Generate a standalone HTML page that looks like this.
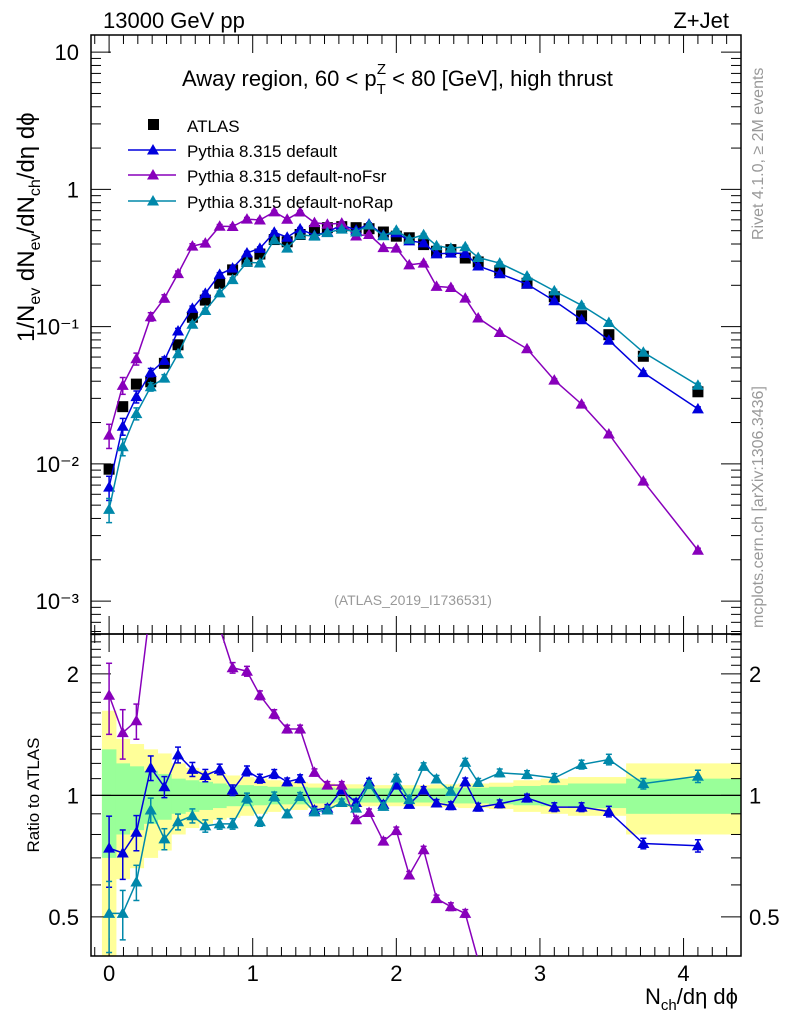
<!DOCTYPE html>
<html><head><meta charset="utf-8"><style>
html,body{margin:0;background:#fff;width:786px;height:1024px;overflow:hidden;}
svg{display:block;font-family:"Liberation Sans",sans-serif;}
</style></head><body>
<svg id="c" width="786" height="1024" xmlns="http://www.w3.org/2000/svg"></svg>
<script>
const xs=[0,0.095,0.19,0.29,0.385,0.48,0.58,0.67,0.77,0.86,0.96,1.05,1.15,1.24,1.33,1.43,1.52,1.62,1.72,1.81,1.91,2.0,2.09,2.19,2.28,2.38,2.48,2.57,2.72,2.91,3.10,3.29,3.48,3.72,4.10];
const atlas=[0.00914,0.0261,0.0381,0.0396,0.054,0.0737,0.117,0.156,0.207,0.259,0.299,0.338,0.431,0.415,0.469,0.502,0.526,0.535,0.526,0.517,0.489,0.456,0.444,0.396,0.354,0.364,0.316,0.296,0.255,0.207,0.165,0.12,0.0873,0.0608,0.0335];
const ratioDefault=[0.74,0.72,0.81,1.17,1.05,1.26,1.16,1.12,1.16,1.03,1.15,1.10,1.13,1.08,1.10,0.92,0.93,1.03,0.96,1.08,0.95,1.06,0.95,1.03,0.957,0.943,1.08,0.935,0.953,0.985,0.935,0.935,0.912,0.76,0.75];
const ratioNoFsr=[1.77,1.43,1.53,2.98,2.98,3.3,3.3,2.6,2.6,2.07,2.03,1.77,1.59,1.46,1.46,1.14,1.06,1.06,0.87,0.907,0.77,0.818,0.635,0.733,0.555,0.53,0.51,0.39,0.355,0.333,0.247,0.227,0.189,0.123,0.07];
const ratioNoRap=[0.51,0.51,0.61,0.92,0.78,0.86,0.89,0.84,0.85,0.85,0.985,0.86,0.994,0.9,0.994,0.91,0.92,0.96,0.93,1.063,0.939,1.104,0.976,1.18,1.098,1.023,1.208,1.077,1.137,1.126,1.104,1.192,1.227,1.069,1.115];
const mcErr=[0.2,0.14,0.1,0.07,0.06,0.045,0.04,0.035,0.03,0.03,0.028,0.025,0.025,0.022,0.022,0.02,0.02,0.02,0.02,0.02,0.02,0.02,0.02,0.02,0.02,0.022,0.022,0.022,0.022,0.022,0.025,0.025,0.03,0.03,0.035];
const bandOuter=[0.62,0.38,0.34,0.3,0.27,0.2,0.17,0.15,0.13,0.12,0.11,0.1,0.09,0.08,0.08,0.07,0.07,0.065,0.065,0.06,0.06,0.06,0.06,0.06,0.065,0.065,0.07,0.07,0.075,0.09,0.1,0.11,0.11,0.2,0.2];
const bandInner=[0.3,0.2,0.18,0.15,0.13,0.1,0.09,0.08,0.07,0.06,0.06,0.055,0.05,0.05,0.05,0.045,0.045,0.04,0.04,0.04,0.04,0.04,0.04,0.04,0.04,0.045,0.045,0.045,0.05,0.055,0.06,0.07,0.07,0.1,0.1];
const xTicks=["0","1","2","3","4"];
const yTickLabels=["10⁻³","10⁻²","10⁻¹","1","10"];
const ratioTickLabels=["0.5","1","2"];

const NS="http://www.w3.org/2000/svg";
const svg=document.getElementById('c');
function el(t,a,p){const e=document.createElementNS(NS,t);for(const k in a)e.setAttribute(k,a[k]);(p||svg).appendChild(e);return e;}
const L=91,R=741,T1=35,B1=634,T2=634,B2=956;
const XMIN=-0.126,XMAX=4.4;
const X=v=>L+(v-XMIN)/(XMAX-XMIN)*(R-L);
const LYMIN=-3.24,LYMAX=1.125;
const Y1=v=>B1-(Math.log10(v)-LYMIN)/(LYMAX-LYMIN)*(B1-T1);
const RMIN=Math.log2(0.40),RMAX=Math.log2(2.51);
const Y2=v=>B2-(Math.log2(v)-RMIN)/(RMAX-RMIN)*(B2-T2);
const cols={d:"#0000dd",f:"#8800bb",r:"#0088aa"};
const clampY=(y,a,b)=>Math.min(Math.max(y,a),b);

// clip polyline to y range, returns array of segments
function clipLine(pts,ya,yb){
  const segs=[];let cur=[];
  for(let i=0;i<pts.length-1;i++){
    let [x0,y0]=pts[i],[x1,y1]=pts[i+1];
    let t0=0,t1=1;const dy=y1-y0;
    if(dy===0){if(y0<ya||y0>yb){if(cur.length){segs.push(cur);cur=[];}continue;}}
    else{let ta=(ya-y0)/dy,tb=(yb-y0)/dy;const lo=Math.min(ta,tb),hi=Math.max(ta,tb);t0=Math.max(0,lo);t1=Math.min(1,hi);}
    if(t0>t1){if(cur.length){segs.push(cur);cur=[];}continue;}
    const p0=[x0+(x1-x0)*t0,y0+dy*t0],p1=[x0+(x1-x0)*t1,y0+dy*t1];
    if(!cur.length||t0>0){if(cur.length)segs.push(cur);cur=[p0];}
    cur.push(p1);
    if(t1<1){segs.push(cur);cur=[];}
  }
  if(cur.length)segs.push(cur);
  return segs;
}

const edges=xs.map((v,i)=>i==0?-0.05:(xs[i-1]+v)/2);edges.push(4.4);
const gB=el('g',{});

xs.forEach((v,i)=>{
  const x0=X(edges[i]),x1=X(edges[i+1]);
  const yt=clampY(Y2(1+bandOuter[i]),T2,B2),yb=clampY(Y2(Math.max(1-bandOuter[i],0.05)),T2,B2);
  const r=el('rect',{x:x0,y:yt,width:x1-x0+0.5,height:yb-yt,fill:'#ffff99'},gB);
  
});
xs.forEach((v,i)=>{
  const x0=X(edges[i]),x1=X(edges[i+1]);
  const yt=clampY(Y2(1+bandInner[i]),T2,B2),yb=clampY(Y2(1-bandInner[i]),T2,B2);
  const r=el('rect',{x:x0,y:yt,width:x1-x0+0.5,height:yb-yt,fill:'#99ff99'},gB);
  
});
el('line',{x1:L,x2:R,y1:Y2(1),y2:Y2(1),stroke:'#000','stroke-width':1.2});

el('rect',{x:L,y:T1,width:R-L,height:B1-T1,fill:'none',stroke:'#000','stroke-width':1.5});
el('rect',{x:L,y:T2,width:R-L,height:B2-T2,fill:'none',stroke:'#000','stroke-width':1.5});

for(let k=-1;k<=44;k++){const v=k/10;if(v<XMIN||v>XMAX)continue;const maj=k%10==0;const len=maj?18:9;const x=X(v);
 [[B1,-1],[T1,1],[B2,-1],[T2,1]].forEach(([y,s])=>el('line',{x1:x,x2:x,y1:y,y2:y+s*len,stroke:'#000','stroke-width':1}));}
xTicks.forEach((t,i)=>{const e=el('text',{x:X(i),y:981,'font-size':22,'text-anchor':'middle'});e.textContent=t;
 });
for(let d=-4;d<=1;d++){for(let m=1;m<=9;m++){const v=m*Math.pow(10,d);const lv=Math.log10(v);if(lv<LYMIN||lv>LYMAX)continue;const len=m==1?20:10;const y=Y1(v);
 el('line',{x1:L,x2:L+len,y1:y,y2:y,stroke:'#000'});el('line',{x1:R,x2:R-len,y1:y,y2:y,stroke:'#000'});}}
yTickLabels.forEach((t,i)=>{const e=el('text',{x:79,y:Y1(Math.pow(10,i-3))+8,'font-size':22,'text-anchor':'end'});e.textContent=t;
 });
[0.4,0.5,0.6,0.7,0.8,0.9,1,1.1,1.2,1.3,1.4,1.5,1.6,1.7,1.8,1.9,2,2.1,2.2,2.3,2.4,2.5].forEach(v=>{const maj=(v==0.5||v==1||v==2);const len=maj?20:10;const y=Y2(v);
 el('line',{x1:L,x2:L+len,y1:y,y2:y,stroke:'#000'});el('line',{x1:R,x2:R-len,y1:y,y2:y,stroke:'#000'});});
ratioTickLabels.forEach((t,i)=>{const v=[0.5,1,2][i];
 let e=el('text',{x:79,y:Y2(v)+8,'font-size':22,'text-anchor':'end'});e.textContent=t;
 
 e=el('text',{x:749,y:Y2(v)+8,'font-size':22,'text-anchor':'start'});e.textContent=t;
 });

function tri(g,x,y,c,s){el('path',{d:`M${x},${y-s}L${x+s},${y+s*0.75}L${x-s},${y+s*0.75}Z`,fill:c},g);}
function drawPanel(g,pts,errs,c,ya,yb){
  clipLine(pts,ya,yb).forEach(s=>el('polyline',{points:s.map(p=>p.join(',')).join(' '),fill:'none',stroke:c,'stroke-width':1.5},g));
  pts.forEach((p,i)=>{const [x,y]=p;if(y<ya||y>yb)return;
    const e1=clampY(errs[i][0],ya,yb),e2=clampY(errs[i][1],ya,yb);
    el('line',{x1:x,x2:x,y1:e1,y2:e2,stroke:c,'stroke-width':1.5},g);
    [e1,e2].forEach(yy=>el('line',{x1:x-3,x2:x+3,y1:yy,y2:yy,stroke:c,'stroke-width':1.5},g));
    tri(g,x,y,c,6);});
}
function series(name,ratio,c){
 const top=el('g',{});
 const bot=el('g',{});
 const vals=ratio.map((r,i)=>r*atlas[i]);
 drawPanel(top,xs.map((x,i)=>[X(x),Y1(vals[i])]),xs.map((x,i)=>[Y1(vals[i]*(1+mcErr[i])),Y1(vals[i]*(1-mcErr[i]))]),c,T1,B1);
 drawPanel(bot,xs.map((x,i)=>[X(x),Y2(ratio[i])]),xs.map((x,i)=>[Y2(ratio[i]*(1+mcErr[i])),Y2(ratio[i]*(1-mcErr[i]))]),c,T2,B2);
}
const gA=el('g',{});
xs.forEach((x,i)=>el('rect',{x:X(x)-5.5,y:Y1(atlas[i])-5.5,width:11,height:11,fill:'#000'},gA));
series('pythia-default',ratioDefault,cols.d);
series('pythia-nofsr',ratioNoFsr,cols.f);
series('pythia-norap',ratioNoRap,cols.r);

const lg=el('g',{});
el('rect',{x:148,y:119,width:11,height:11,fill:'#000'},lg);
[["ATLAS",125],["Pythia 8.315 default",150],["Pythia 8.315 default-noFsr",175],["Pythia 8.315 default-noRap",201]].forEach(([t,y],i)=>{
 const e=el('text',{x:187,y:y+7,'font-size':17},lg);e.textContent=t;
 if(i>0){const c=[cols.d,cols.f,cols.r][i-1];el('line',{x1:128,x2:176,y1:y,y2:y,stroke:c,'stroke-width':1.5},lg);tri(lg,153,y,c,6);}
});
function txt(t,a,name){const e=el('text',a);e.innerHTML=t;return e;}
txt('13000 GeV pp',{x:103,y:28,'font-size':22},'energy-label');
txt('Z+Jet',{x:729,y:28,'font-size':22,'text-anchor':'end'},'process-label');
txt('Away region, 60 &lt; p<tspan dy="8" font-size="15">T</tspan><tspan dy="-20" dx="-9" font-size="15">Z</tspan><tspan dy="12"> &lt; 80 [GeV], high thrust</tspan>',{x:182,y:86,'font-size':22},'plot-title');
txt('(ATLAS_2019_I1736531)',{x:413,y:605,'font-size':14,fill:'#999','text-anchor':'middle'},'analysis-id');
txt('Rivet 4.1.0, ≥ 2M events',{x:0,y:0,'font-size':16,fill:'#999',transform:'translate(763,240) rotate(-90)'},'rivet-label');
txt('mcplots.cern.ch [arXiv:1306.3436]',{x:0,y:0,'font-size':16,fill:'#999',transform:'translate(763,628) rotate(-90)'},'mcplots-label');
txt('1/N<tspan dy="6" font-size="16">ev</tspan><tspan dy="-6"> dN</tspan><tspan dy="6" font-size="16">ev</tspan><tspan dy="-6">/dN</tspan><tspan dy="6" font-size="16">ch</tspan><tspan dy="-6">/dη dϕ</tspan>',{x:0,y:0,'font-size':24,transform:'translate(34,342) rotate(-90)'},'y-axis-title');
txt('Ratio to ATLAS',{x:0,y:0,'font-size':17,'text-anchor':'middle',transform:'translate(39,795) rotate(-90)'},'ratio-axis-title');
txt('N<tspan dy="6" font-size="15">ch</tspan><tspan dy="-6">/dη dϕ</tspan>',{x:738,y:1004,'font-size':22,'text-anchor':'end'},'x-axis-title');
</script>
</body></html>
